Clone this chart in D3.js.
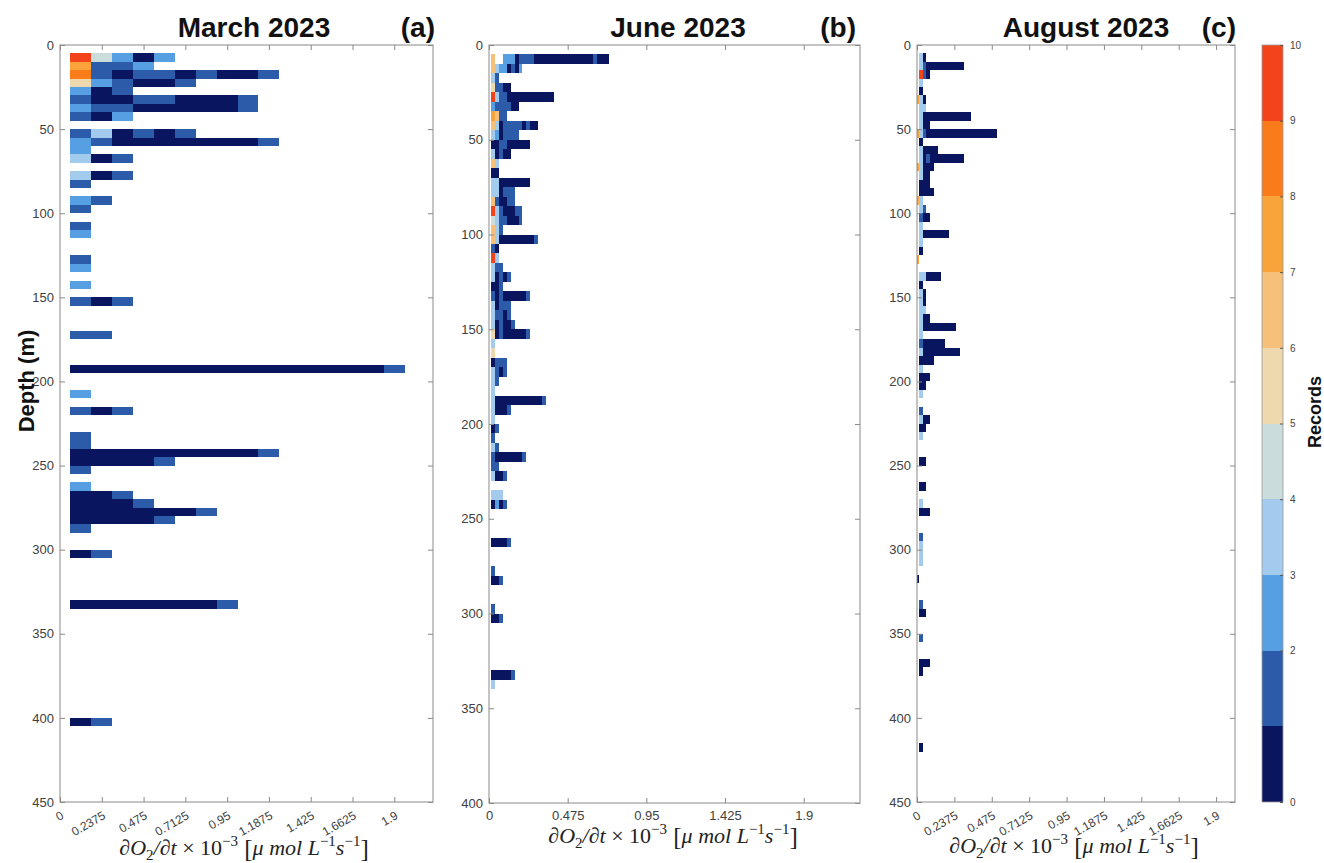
<!DOCTYPE html>
<html>
<head>
<meta charset="utf-8">
<script src="https://cdn.jsdelivr.net/npm/d3@7"></script>
<style>
  body { margin: 0; background: #fff; }
  svg { display: block; }
  text { font-family: "Liberation Sans", Arial, Helvetica, sans-serif; }
</style>
</head>
<body>
<svg id="chart" width="1324" height="863"></svg>
<script>
// ---- Record counts per (depth bin, rate bin) ----
// Each row: [top of 5 m depth bin, counts per rate bin k (bin centred at k * binWidth)]
const marchRows = [
  [5,   [0,10,5,3,1,3]],
  [10,  [0,8,2,2,3]],
  [15,  [0,9,2,1,2,2,1,2,1,1,2]],
  [20,  [0,6,3,2,1,1,2]],
  [25,  [0,3,1,2]],
  [30,  [0,2,1,1,2,2,1,1,1,2]],
  [35,  [0,3,2,2,1,1,1,1,1,2]],
  [40,  [0,2,1,3]],
  [50,  [0,2,4,1,2,1,2]],
  [55,  [0,3,2,1,1,1,1,1,1,1,2]],
  [60,  [0,3]],
  [65,  [0,4,1,2]],
  [75,  [0,4,1,2]],
  [80,  [0,2]],
  [90,  [0,3,2]],
  [95,  [0,2]],
  [105, [0,2]],
  [110, [0,3]],
  [125, [0,2]],
  [130, [0,3]],
  [140, [0,3]],
  [150, [0,2,1,2]],
  [170, [0,2,2]],
  [190, [0,1,1,1,1,1,1,1,1,1,1,1,1,1,1,1,2]],
  [205, [0,3]],
  [215, [0,2,1,2]],
  [230, [0,2]],
  [235, [0,2]],
  [240, [0,1,1,1,1,1,1,1,1,1,2]],
  [245, [0,1,1,1,1,2]],
  [250, [0,2]],
  [260, [0,3]],
  [265, [0,1,1,2]],
  [270, [0,1,1,1,2]],
  [275, [0,1,1,1,1,1,1,2]],
  [280, [0,1,1,1,1,2]],
  [285, [0,2]],
  [300, [0,1,2]],
  [330, [0,1,1,1,1,1,1,1,2]],
  [400, [0,1,2]]
];

const juneRows = [
  [5,   [0,7,0,0,3,3,3,1,2,2,2,2,1,1,1,1,1,1,1,1,1,1,1,1,1,1,1,2,1,1,1]],
  [10,  [0,7,4,3,3,1,2,1,3]],
  [15,  [0,4,2]],
  [20,  [0,6,2,2,1,1]],
  [25,  [0,10,4,2,2,1,1,1,1,1,1,1,1,1,1,1,1]],
  [30,  [0,3,2,2,2,2,1,1]],
  [35,  [0,8,7,2,2]],
  [40,  [0,7,4,1,2,2,2,2,2,1,2,1,1]],
  [45,  [0,4,3,1,2,2,2,2]],
  [50,  [0,1,1,2,2,1,1,1,1,1,1]],
  [55,  [0,4,1,2,1,1]],
  [60,  [0,7,4]],
  [65,  [0,1,1]],
  [70,  [0,4,4,1,1,1,1,1,1,1,1]],
  [75,  [0,4,4,1,2,2,2]],
  [80,  [0,7,2,1,1,2,2]],
  [85,  [0,10,4,2,1,1,1,2,2]],
  [90,  [0,5,4,2,2,1,1,1,2]],
  [95,  [0,7,4,2]],
  [100, [0,7,4,1,1,1,1,1,1,1,1,1,2]],
  [105, [0,2,1]],
  [110, [0,10,4]],
  [115, [0,4,2,2]],
  [120, [0,4,1,2,1,2]],
  [125, [0,1,1,2]],
  [130, [0,2,1,2,1,1,1,1,1,1,2]],
  [135, [0,4,1,2,2,2]],
  [140, [0,4,2,2,1,2]],
  [145, [0,4,1,2,1,1,2]],
  [150, [0,6,1,2,1,1,1,1,1,1,2]],
  [155, [0,4]],
  [160, [0,6]],
  [165, [0,1,2,2,2]],
  [170, [0,4,2,1,2]],
  [175, [0,4,2]],
  [180, [0,4]],
  [185, [0,4,1,1,1,1,1,1,1,1,1,1,1,1,2]],
  [190, [0,4,1,1,1,2]],
  [195, [0,4]],
  [200, [0,1,2]],
  [205, [0,2]],
  [210, [0,4,2]],
  [215, [0,2,1,1,1,1,1,1,1,2]],
  [220, [0,2,2]],
  [225, [0,4,1,1,2]],
  [235, [0,4,4,4]],
  [240, [0,1,3,1,2]],
  [260, [0,1,1,1,1,2]],
  [275, [0,2]],
  [280, [0,1,1,2]],
  [295, [0,2]],
  [300, [0,1,1,2]],
  [330, [0,1,1,1,1,1,2]],
  [335, [0,4]]
];

const augustRows = [
  [5,   [0,4,1]],
  [10,  [0,4,2,1,1,1,1,1,1,1,1,1,1]],
  [15,  [0,10,2,1]],
  [20,  [0,4]],
  [25,  [0,1]],
  [30,  [8,4,1]],
  [35,  [0,4,4]],
  [40,  [0,4,1,1,1,1,1,1,1,1,1,1,1,1,1]],
  [45,  [0,4,1,1]],
  [50,  [8,4,2,1,1,1,1,1,1,1,1,1,1,1,1,1,1,1,1,1,1,1]],
  [55,  [0,1]],
  [60,  [0,4,1,1,1,1]],
  [65,  [0,4,1,2,1,1,1,1,1,1,1,1,1]],
  [70,  [8,4,1,1,1]],
  [75,  [0,4,1,1]],
  [80,  [0,1,1,1]],
  [85,  [0,1,1,1,1]],
  [90,  [8,4]],
  [95,  [0,4,2]],
  [100, [0,2,1,1]],
  [105, [0,4]],
  [110, [0,4,1,1,1,1,1,1,1]],
  [115, [0,4]],
  [120, [0,1]],
  [125, [8]],
  [135, [0,4,4,1,1,1,1]],
  [140, [0,1]],
  [145, [0,4,1]],
  [150, [0,4,1]],
  [155, [0,4,4]],
  [160, [0,4,1,1]],
  [165, [0,4,1,1,1,1,1,1,1,1,1]],
  [170, [0,4]],
  [175, [0,2,1,1,1,1,1,1]],
  [180, [0,4,1,1,1,1,1,1,1,1,1,1]],
  [185, [0,1,1,1,1]],
  [190, [0,4]],
  [195, [0,1,1,1]],
  [200, [0,1,1]],
  [205, [0,4]],
  [215, [0,2]],
  [220, [0,4,1,1]],
  [225, [0,1,1]],
  [230, [0,4]],
  [245, [0,1,1]],
  [260, [0,1,1]],
  [270, [0,4]],
  [275, [0,1,1,1]],
  [290, [0,2]],
  [295, [0,4]],
  [300, [0,4]],
  [305, [0,4]],
  [315, [1]],
  [330, [0,2]],
  [335, [0,1,1]],
  [350, [0,2]],
  [365, [0,1,1,1]],
  [370, [0,1]],
  [415, [0,1]]
];

// ---- Axis ticks ----
const fineRateTicks = [0, 0.2375, 0.475, 0.7125, 0.95, 1.1875, 1.425, 1.6625, 1.9];
const fineRateLabels = ["0", "0.2375", "0.475", "0.7125", "0.95", "1.1875", "1.425", "1.6625", "1.9"];
const coarseRateTicks = [0, 0.475, 0.95, 1.425, 1.9];
const coarseRateLabels = ["0", "0.475", "0.95", "1.425", "1.9"];
const depthTicks450 = [0, 50, 100, 150, 200, 250, 300, 350, 400, 450];
const depthTicks400 = [0, 50, 100, 150, 200, 250, 300, 350, 400];

// ---- Colour bar ----
const recordLevels = [1, 2, 3, 4, 5, 6, 7, 8, 9, 10];
const recordColors = ["#0a155f", "#2c5ca9", "#559fe2", "#a3cbee", "#cadcdc",
                      "#eed8ae", "#f6c07a", "#f9a43a", "#f97b1a", "#f2431b"];
const colorbarLabels = [0, 2, 3, 4, 5, 6, 7, 8, 9, 10];

const depthStep = 5;
const color = d3.scaleThreshold().domain([2, 3, 4, 5, 6, 7, 8, 9, 10]).range(recordColors);

const svg = d3.select("#chart");

const panels = [
  { title: "March 2023", tag: "(a)", rows: marchRows, binW: 0.11875, xMax: 2.12, yMax: 450,
    left: 60, right: 433, top: 45, bottom: 802, yTicks: depthTicks450,
    xTicks: fineRateTicks, xLabels: fineRateLabels, rotate: true,
    titleX: 254, tagX: 435, labelX: 244, labelY: 855 },
  { title: "June 2023", tag: "(b)", rows: juneRows, binW: 0.02375, xMax: 2.24, yMax: 400,
    left: 489, right: 860, top: 45, bottom: 803, yTicks: depthTicks400,
    xTicks: coarseRateTicks, xLabels: coarseRateLabels, rotate: false,
    titleX: 678, tagX: 856, labelX: 673, labelY: 843 },
  { title: "August 2023", tag: "(c)", rows: augustRows, binW: 0.02375, xMax: 2.02, yMax: 450,
    left: 917, right: 1235, top: 45, bottom: 802, yTicks: depthTicks450,
    xTicks: fineRateTicks, xLabels: fineRateLabels, rotate: true,
    titleX: 1086, tagX: 1236, labelX: 1074, labelY: 853 }
];

const axisGrey = "#8a8a8a";
const tickText = "#404040";

function styleAxis(g) {
  g.select(".domain").remove();
  g.selectAll(".tick line").attr("stroke", axisGrey);
  g.selectAll(".tick text").attr("fill", tickText).style("font-size", "13px");
}

function drawRateLabel(cx, baseline) {
  // dO2/dt x 10^-3 [umol L^-1 s^-1]
  const parts = [
    { t: "\u2202O", s: "i" }, { t: "2", s: "sub" }, { t: "/\u2202t", s: "i" },
    { t: "  \u00d7 10", s: "n" }, { t: "\u22123", s: "sup" },
    { t: " [", s: "br" }, { t: "\u03bc mol L", s: "i" }, { t: "\u22121", s: "sup" },
    { t: "s", s: "i" }, { t: "\u22121", s: "sup" }, { t: "]", s: "br" }
  ];
  const txt = svg.append("text")
    .attr("x", cx).attr("y", baseline)
    .attr("text-anchor", "middle")
    .style("font-family", "'Liberation Serif', 'DejaVu Serif', serif")
    .style("font-size", "22px")
    .attr("fill", "#222");
  let shift = 0;
  parts.forEach(p => {
    const sp = txt.append("tspan").text(p.t);
    let target = 0;
    if (p.s === "i") sp.style("font-style", "italic");
    if (p.s === "sub") { target = 5; sp.style("font-size", "15px"); }
    if (p.s === "sup") { target = -9; sp.style("font-size", "15px"); }
    if (p.s === "br") { sp.style("font-size", "25px").style("font-weight", "200"); target = 2; }
    sp.attr("dy", target - shift);
    shift = target;
  });
}

panels.forEach(p => {
  const x = d3.scaleLinear().domain([0, p.xMax]).range([p.left, p.right]);
  const y = d3.scaleLinear().domain([0, p.yMax]).range([p.top, p.bottom]);

  const cells = [];
  p.rows.forEach(([d, counts]) => counts.forEach((c, k) => {
    if (c > 0) cells.push({ d, k, c });
  }));

  const g = svg.append("g").attr("shape-rendering", "crispEdges");
  g.selectAll("rect")
    .data(cells)
    .join("rect")
    .attr("x", e => x(Math.max(0, (e.k - 0.5) * p.binW)))
    .attr("width", e => x((e.k + 0.5) * p.binW) - x(Math.max(0, (e.k - 0.5) * p.binW)))
    .attr("y", e => y(e.d))
    .attr("height", e => y(e.d + depthStep) - y(e.d))
    .attr("fill", e => color(e.c));

  // frame
  svg.append("rect")
    .attr("x", p.left).attr("y", p.top)
    .attr("width", p.right - p.left).attr("height", p.bottom - p.top)
    .attr("fill", "none").attr("stroke", axisGrey).attr("stroke-width", 1);

  // left axis with labels, right axis ticks only (ticks point inward)
  svg.append("g").attr("transform", `translate(${p.left},0)`)
    .call(d3.axisLeft(y).tickValues(p.yTicks).tickSize(-5).tickPadding(6).tickFormat(d3.format("d")))
    .call(styleAxis);
  svg.append("g").attr("transform", `translate(${p.right},0)`)
    .call(d3.axisRight(y).tickValues(p.yTicks).tickSize(-5).tickFormat(""))
    .call(styleAxis);

  // top ticks
  svg.append("g").attr("transform", `translate(0,${p.top})`)
    .call(d3.axisTop(x).tickValues(p.xTicks).tickSize(-5).tickFormat(""))
    .call(styleAxis);

  // bottom axis
  const bx = svg.append("g").attr("transform", `translate(0,${p.bottom})`)
    .call(d3.axisBottom(x).tickValues(p.xTicks).tickSize(-5).tickPadding(8)
      .tickFormat((d, i) => p.xLabels[i]))
    .call(styleAxis);
  if (p.rotate) {
    bx.selectAll(".tick text")
      .attr("y", 0).attr("dy", 0)
      .attr("text-anchor", "end")
      .attr("transform", "translate(4,16) rotate(-30)")
      .style("font-size", "12px");
  }

  // titles
  svg.append("text").attr("x", p.titleX).attr("y", 37)
    .attr("text-anchor", "middle").style("font-weight", "bold").style("font-size", "28px")
    .attr("fill", "#111").text(p.title);
  svg.append("text").attr("x", p.tagX).attr("y", 37)
    .attr("text-anchor", "end").style("font-weight", "bold").style("font-size", "28px")
    .attr("fill", "#111").text(p.tag);

  drawRateLabel(p.labelX, p.labelY);
});

// Depth label
svg.append("text")
  .attr("transform", "translate(34,381) rotate(-90)")
  .attr("text-anchor", "middle")
  .style("font-weight", "bold").style("font-size", "22px").attr("fill", "#111")
  .text("Depth (m)");

// ---- Colour bar ----
const cb = { left: 1262, width: 21, top: 45, bottom: 802 };
const cy = d3.scaleLinear().domain([0, 10]).range([cb.bottom, cb.top]);
svg.append("g").attr("shape-rendering", "crispEdges").selectAll("rect")
  .data(recordLevels)
  .join("rect")
  .attr("x", cb.left).attr("width", cb.width)
  .attr("y", v => cy(v))
  .attr("height", v => cy(v - 1) - cy(v))
  .attr("fill", v => color(v));
svg.append("rect")
  .attr("x", cb.left).attr("y", cb.top).attr("width", cb.width).attr("height", cb.bottom - cb.top)
  .attr("fill", "none").attr("stroke", "#9a9a9a").attr("stroke-width", 0.8);
svg.append("g").attr("transform", `translate(${cb.left + cb.width},0)`)
  .call(d3.axisRight(cy).tickValues(colorbarLabels).tickSize(-3).tickPadding(7).tickFormat(d3.format("d")))
  .call(g => {
    g.select(".domain").remove();
    g.selectAll(".tick line").attr("stroke", "#555");
    g.selectAll(".tick text").attr("fill", "#444").style("font-size", "10px");
  });
svg.append("text")
  .attr("transform", "translate(1321,412) rotate(-90)")
  .attr("text-anchor", "middle")
  .style("font-weight", "bold").style("font-size", "18px").attr("fill", "#111")
  .text("Records");
</script>
</body>
</html>
